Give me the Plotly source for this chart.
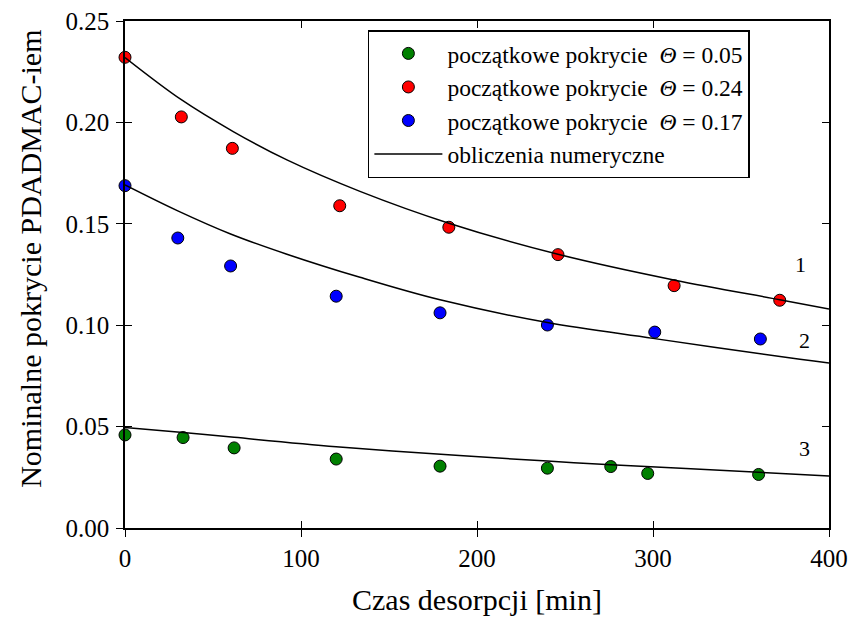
import plotly.graph_objects as go

# measured data
green_x = [0, 33, 62, 120, 179, 240, 276, 297, 360]
green_y = [0.0459, 0.0446, 0.0395, 0.0340, 0.0305, 0.0295, 0.0303, 0.0269, 0.0264]
red_x = [0, 32, 61, 122, 184, 246, 312, 372]
red_y = [0.2321, 0.2027, 0.1872, 0.1589, 0.1483, 0.1348, 0.1195, 0.1123]
blue_x = [0, 30, 60, 120, 179, 240, 301, 361]
blue_y = [0.1688, 0.1430, 0.1292, 0.1143, 0.1061, 0.1001, 0.0966, 0.0932]

# numerical curves
c1_x = [0, 32, 61.5, 92, 133.5, 184, 246, 312.5, 372, 400]
c1_y = [0.2320, 0.2112, 0.1955, 0.1815, 0.1660, 0.1503, 0.1350, 0.1222, 0.1126, 0.1080]
c2_x = [0, 30, 60, 92, 133.5, 179, 240, 300, 383.5, 400]
c2_y = [0.1692, 0.1564, 0.1450, 0.1350, 0.1236, 0.1125, 0.1013, 0.0935, 0.0832, 0.0814]
c3_x = [0, 33, 62, 120, 190, 240, 276, 360, 400]
c3_y = [0.0495, 0.0471, 0.0447, 0.0401, 0.0357, 0.0330, 0.0312, 0.0275, 0.0257]

curve_labels = ["1", "2", "3"]
label_x = [384, 386, 386]
label_y = [0.1297, 0.0923, 0.0390]

x_title = "Czas desorpcji [min]"
y_title = "Nominalne pokrycie PDADMAC-iem"

FONT = "Liberation Serif, DejaVu Serif, serif"
fig = go.Figure()

def pts(x, y, color, name, grp):
    fig.add_trace(go.Scatter(
        x=x, y=y, mode="markers", name=name, legendgroup=grp,
        marker=dict(size=12, color=color, line=dict(color="black", width=1)),
        cliponaxis=False))

pts(green_x, green_y, "#008000", "początkowe pokrycie  <i>Θ</i> = 0.05", "g")
pts(red_x, red_y, "#ff0000", "początkowe pokrycie  <i>Θ</i> = 0.24", "r")
pts(blue_x, blue_y, "#0000ff", "początkowe pokrycie  <i>Θ</i> = 0.17", "b")

for i, (cx, cy) in enumerate([(c1_x, c1_y), (c2_x, c2_y), (c3_x, c3_y)]):
    fig.add_trace(go.Scatter(
        x=cx, y=cy, mode="lines", line=dict(color="black", width=1.5, shape="spline", smoothing=1.0),
        name="obliczenia numeryczne", legendgroup="l", showlegend=(i == 0),
        cliponaxis=False))

# helper trace for the inside-tick overlay axes
fig.add_trace(go.Scatter(x=[], y=[], xaxis="x2", yaxis="y2", showlegend=False, hoverinfo="skip"))

for t, lx, ly in zip(curve_labels, label_x, label_y):
    fig.add_annotation(x=lx, y=ly, text=t, showarrow=False,
                       font=dict(family=FONT, size=22, color="black"))

# axis titles as text annotations
fig.add_annotation(xref="paper", yref="paper", x=-0.1335, y=0.531, text=y_title,
                   textangle=-90, showarrow=False, xanchor="center", yanchor="middle",
                   font=dict(family=FONT, size=30, color="black"))
fig.add_annotation(xref="paper", yref="paper", x=0.5, y=-0.142, text=x_title,
                   showarrow=False, xanchor="center", yanchor="middle",
                   font=dict(family=FONT, size=30, color="black"))

tickfont = dict(family=FONT, size=25, color="black")
axis_common = dict(showgrid=False, zeroline=False, showline=True, linecolor="black",
                   linewidth=1.5, tickcolor="black", tickwidth=1.2, ticklen=7,
                   tickfont=tickfont, automargin=False)

fig.update_layout(
    width=853, height=618,
    margin=dict(l=125, r=24, t=21, b=90),
    plot_bgcolor="white", paper_bgcolor="white",
    font=dict(family=FONT, size=23, color="black"),
    xaxis=dict(range=[0, 400], dtick=100, ticks="outside", **axis_common),
    yaxis=dict(range=[0, 0.25], dtick=0.05, tickformat=".2f", ticks="outside",
               ticklabelstandoff=2, **axis_common),
    xaxis2=dict(range=[0, 400], dtick=100, ticks="inside", mirror="ticks", overlaying="x",
                side="bottom", anchor="y2", showticklabels=False, **axis_common),
    yaxis2=dict(range=[0, 0.25], dtick=0.05, ticks="inside", mirror="ticks", overlaying="y",
                side="left", anchor="x2", showticklabels=False, **axis_common),
    legend=dict(x=0.345, y=0.982, xanchor="left", yanchor="top",
                bordercolor="black", borderwidth=1.5, bgcolor="white",
                font=dict(family=FONT, size=23.5, color="black"), tracegroupgap=0,
                itemwidth=68),
    showlegend=True,
)

fig.write_html("out.html")
